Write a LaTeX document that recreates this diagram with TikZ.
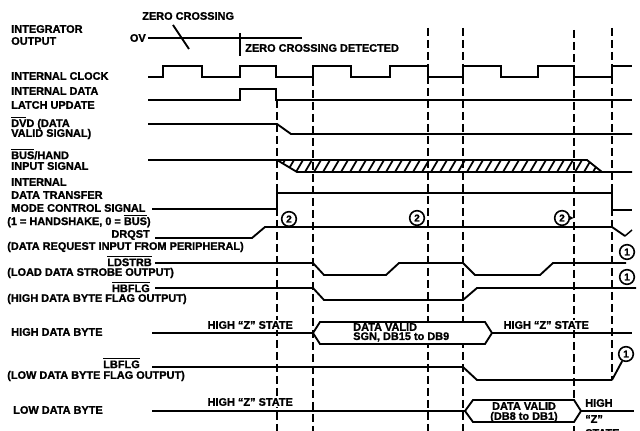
\documentclass[tikz,border=0pt]{standalone}
\usepackage{fontspec}
\setmainfont[BoldFeatures={FakeBold=1.3}]{Liberation Sans}
\usetikzlibrary{arrows.meta}
\newcommand{\ovl}[1]{$\overline{\hbox{#1}}$}
\begin{document}
\begin{tikzpicture}[x=0.75pt,y=-0.75pt,
  lbl/.style={font=\bfseries\fontsize{8.2}{9}\selectfont, inner sep=0pt, anchor=west},
  lble/.style={lbl, anchor=east},
  st/.style={lbl, fill=white, inner sep=1pt},
  wave/.style={line width=1.4pt, line join=miter},
  grid/.style={line width=1.1pt, dash pattern=on 6pt off 3pt},
  num/.style={draw, circle, fill=white, line width=1.2pt, inner sep=0pt, minimum size=11pt, font=\bfseries\fontsize{7.5}{8}\selectfont}]
\useasboundingbox (0,0) rectangle (640,431);

% vertical dashed reference lines
\draw[grid] (277,100) -- (277,431);
\draw[grid] (313,78) -- (313,431);
\draw[grid] (428,28) -- (428,431);
\draw[grid] (463,28) -- (463,431);
\draw[grid] (574,30) -- (574,431);
\draw[grid] (612,28) -- (612,380);

% left labels
\node[lbl] (l1a) at (11,29) {INTEGRATOR};
\node[lbl] (l1b) at (11,41) {OUTPUT};
\node[lbl] (l2) at (11,76) {INTERNAL CLOCK};
\node[lbl] (l3a) at (11,91) {INTERNAL DATA};
\node[lbl] (l3b) at (11,105) {LATCH UPDATE};
\node[lbl] (l4a) at (11,123) {\ovl{DV}D (DATA};
\node[lbl] (l4b) at (11,134) {VALID SIGNAL)};
\node[lbl] (l5a) at (11,154) {\ovl{BUS}/HAND};
\node[lbl] (l5b) at (11,166) {INPUT SIGNAL};
\node[lbl] (l6a) at (11,182) {INTERNAL};
\node[lbl] (l6b) at (11,195) {DATA TRANSFER};
\node[lbl] (l6c) at (11,208) {MODE CONTROL SIGNAL};
\node[lbl] (l6d) at (7,221) {(1 = HANDSHAKE, 0 = \ovl{BUS})};
\node[lble] (l7a) at (150,235) {DRQST};
\node[lbl] (l7b) at (7,247) {(DATA REQUEST INPUT FROM PERIPHERAL)};
\node[lble] (l8a) at (152,261) {\ovl{LDSTRB}};
\node[lbl] (l8b) at (7,273) {(LOAD DATA STROBE OUTPUT)};
\node[lble] (l9a) at (150,287) {\ovl{HBFLG}};
\node[lbl] (l9b) at (7,299) {(HIGH DATA BYTE FLAG OUTPUT)};
\node[lbl] (l10) at (11,332) {HIGH DATA BYTE};
\node[lble] (l11a) at (140,363) {\ovl{LBFLG}};
\node[lbl] (l11b) at (7,376) {(LOW DATA BYTE FLAG OUTPUT)};
\node[lbl] (l12) at (13,410) {LOW DATA BYTE};

% integrator output
\node[lbl] (zc) at (142,16) {ZERO CROSSING};
\node[lble] (ov) at (146,38) {OV};
\draw[wave] (148,38) -- (302,38);
\draw[wave] (173,25) -- (189,49);
\draw[line width=1.1pt] (240,33) -- (240,56);
\node[lbl] (zcd) at (245,48) {ZERO CROSSING DETECTED};

% internal clock
\draw[wave] (148,77) -- (163,77) -- (163,66) -- (202,66) -- (202,77) -- (240,77) -- (240,66) -- (276,66) -- (276,77) -- (313,77) -- (313,66) -- (351,66) -- (351,77) -- (390,77) -- (390,66) -- (428,66) -- (428,77) -- (463,77) -- (463,66) -- (501,66) -- (501,77) -- (538,77) -- (538,66) -- (574,66) -- (574,77) -- (612,77) -- (612,66) -- (632,66);

% latch update
\draw[wave] (148,100) -- (240,100) -- (240,89) -- (276,89) -- (276,100) -- (632,100);

% DVD
\draw[wave] (148,124) -- (277,124) -- (291,134) -- (632,134);

% BUS/HAND with hatched transition
\begin{scope}
\clip (277,160) -- (587,160) -- (602,172) -- (297,172) -- cycle;
\foreach \x in {278,287,...,611} \draw[line width=1.3pt] (\x,172) -- (\x+7,160);
\end{scope}
\draw[wave] (148,160) -- (587,160) -- (602,172) -- (632,172);
\draw[wave] (277,160) -- (297,172) -- (602,172);

% mode control
\draw[wave] (152,209) -- (277,209) -- (277,193) -- (612,193) -- (612,210) -- (632,210);
\node[num] (c2a) at (289,219) {2};
\node[num] (c2b) at (417,218) {2};
\node[num] (c2c) at (562,218) {2};
\coordinate (c2t) at (574,218);
\draw[line width=1pt,-{Latex[length=3pt,width=3pt]}] (c2c) -- (c2t);

% DRQST
\draw[wave] (155,238) -- (252,238) -- (265,227) -- (612,227) -- (625,236);
\draw[line width=1.1pt] (625,236) -- (632,230);

% LDSTRB
\draw[wave] (155,263) -- (313,263) -- (324,275) -- (386,275) -- (399,263) -- (463,263) -- (475,275) -- (540,275) -- (553,263) -- (626,263);
\node[num] (c1a) at (627,252) {1};

% HBFLG
\draw[wave] (155,288) -- (313,288) -- (324,300) -- (463,300) -- (477,288) -- (636,288);
\node[num] (c1b) at (627,277) {1};

% high data byte
\draw[wave] (152,333) -- (313,333);
\draw[wave, fill=white] (313,333) -- (320,322) -- (485,322) -- (492,333) -- (485,344) -- (320,344) -- cycle;
\draw[wave] (492,333) -- (632,333);
\node[st] (hz1) at (206,325) {HIGH “Z” STATE};
\node[lbl] (dv1a) at (353,327) {DATA VALID};
\node[lbl] (dv1b) at (353,337) {SGN, DB15 to DB9};
\node[st] (hz2) at (502,325) {HIGH “Z” STATE};

% LBFLG
\node[num] (c1c) at (626,354) {1};
\coordinate (lbe) at (612,380);
\draw[wave] (152,367) -- (463,367) -- (477,380) -- (lbe);
\draw[wave] (lbe) -- (c1c);

% low data byte
\draw[wave] (152,411) -- (465,411);
\draw[wave, fill=white] (465,411) -- (473,400) -- (574,400) -- (581,411) -- (574,422) -- (473,422) -- cycle;
\draw[wave] (581,411) -- (634,411);
\node[st] (hz3) at (206,402) {HIGH “Z” STATE};
\node[lbl, anchor=center] (dv2a) at (524,406) {DATA VALID};
\node[lbl, anchor=center] (dv2b) at (524,417) {(DB8 to DB1)};
\node[lbl] (hz4a) at (585,403) {HIGH};
\node[lbl] (hz4b) at (585,419) {“Z”};
\node[lbl] (hz4c) at (585,433) {STATE};
\end{tikzpicture}
\end{document}
